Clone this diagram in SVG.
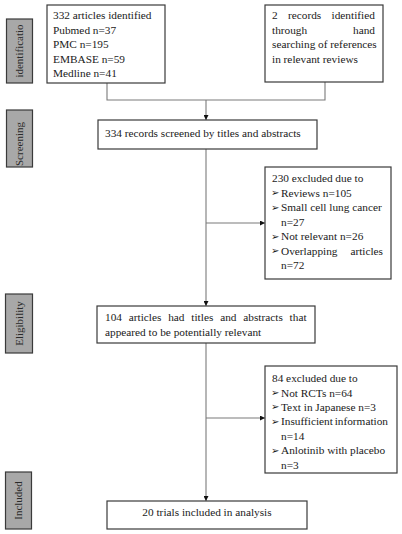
<svg xmlns="http://www.w3.org/2000/svg" width="402" height="534" viewBox="0 0 402 534">
<style>
.box{fill:#fff;stroke:#3a3a3a;stroke-width:1.2}
.side{fill:#a8a8a8;stroke:#3a3a3a;stroke-width:1.2}
.t{font-family:"Liberation Serif","Times New Roman",serif;font-size:11.3px;fill:#1a1a1a}
.e{text-anchor:end}
.st{font-family:"Liberation Serif","Times New Roman",serif;font-size:11px;fill:#2a2a2a}
.b{font-family:"DejaVu Sans",sans-serif;font-size:10px;fill:#1a1a1a}
.c{fill:none;stroke:#7a7a7a;stroke-width:1.1}
</style>
<defs>
<marker id="ah" viewBox="0 0 10 10" refX="10" refY="5" markerWidth="5" markerHeight="5" orient="auto" markerUnits="userSpaceOnUse">
<path d="M0,0 L10,5 L0,10 z" fill="#111"/>
</marker>
<clipPath id="cs"><rect x="6" y="110" width="26" height="57"/></clipPath>
</defs>
<rect width="402" height="534" fill="#fff"/>

<g id="side-identification">
<rect class="side" x="6.5" y="19" width="26" height="64"/>
<text class="st" transform="translate(23,51) rotate(-90)" text-anchor="middle">identificatio</text>
</g>
<g id="side-screening">
<rect class="side" x="6.5" y="110" width="26" height="57"/>
<g clip-path="url(#cs)"><text class="st" transform="translate(23,166) rotate(-90)">Screening</text></g>
</g>
<g id="side-eligibility">
<rect class="side" x="5.5" y="294" width="27" height="59"/>
<text class="st" transform="translate(23,323.5) rotate(-90)" text-anchor="middle">Eligibility</text>
</g>
<g id="side-included">
<rect class="side" x="5.5" y="472" width="26" height="57"/>
<text class="st" transform="translate(22,500.5) rotate(-90)" text-anchor="middle">Included</text>
</g>

<g id="connectors">
<path class="c" d="M107,83 V100 H325 V82"/>
<path class="c" d="M206,100 V120" marker-end="url(#ah)"/>
<path class="c" d="M206,149 V306" marker-end="url(#ah)"/>
<path class="c" d="M206,223 H265" marker-end="url(#ah)"/>
<path class="c" d="M206,343 V501" marker-end="url(#ah)"/>
<path class="c" d="M206,418 H265" marker-end="url(#ah)"/>
</g>

<g id="box-identified">
<rect class="box" x="47" y="5" width="118" height="78"/>
<text class="t" x="53" y="19">332 articles identified</text>
<text class="t" x="53" y="33.5">Pubmed n=37</text>
<text class="t" x="53" y="48">PMC n=195</text>
<text class="t" x="53" y="62.5">EMBASE n=59</text>
<text class="t" x="53" y="77">Medline n=41</text>
</g>

<g id="box-hand">
<rect class="box" x="265" y="5" width="118" height="77"/>
<text class="t" x="272" y="19" word-spacing="7.5">2 records identified</text>
<text class="t" x="272" y="33.5">through</text>
<text class="t e" x="375" y="33.5">hand</text>
<text class="t" x="272" y="48">searching of references</text>
<text class="t" x="272" y="62.5">in relevant reviews</text>
</g>

<g id="box-screened">
<rect class="box" x="98" y="120" width="219" height="29"/>
<text class="t" x="105" y="137">334 records screened by titles and abstracts</text>
</g>

<g id="box-excluded1">
<rect class="box" x="265" y="167" width="126" height="112"/>
<text class="t" x="272" y="182">230 excluded due to</text>
<text class="b" x="271" y="196">➢</text><text class="t" x="281" y="196.5">Reviews n=105</text>
<text class="b" x="271" y="210.5">➢</text><text class="t" x="281" y="211">Small cell lung cancer</text>
<text class="t" x="281" y="225.5">n=27</text>
<text class="b" x="271" y="239.5">➢</text><text class="t" x="281" y="240">Not relevant n=26</text>
<text class="b" x="271" y="254">➢</text><text class="t" x="281" y="254.5">Overlapping</text>
<text class="t e" x="383" y="254.5">articles</text>
<text class="t" x="281" y="269">n=72</text>
</g>

<g id="box-relevant">
<rect class="box" x="97" y="306" width="218" height="37"/>
<text class="t" x="105" y="321" word-spacing="4">104 articles had titles and abstracts that</text>
<text class="t" x="105" y="336">appeared to be potentially relevant</text>
</g>

<g id="box-excluded2">
<rect class="box" x="265" y="366" width="132" height="107"/>
<text class="t" x="272" y="382">84 excluded due to</text>
<text class="b" x="271" y="396">➢</text><text class="t" x="281" y="396.5">Not RCTs n=64</text>
<text class="b" x="271" y="410">➢</text><text class="t" x="281" y="410.5">Text in Japanese n=3</text>
<text class="b" x="271" y="424.5">➢</text><text class="t" x="281" y="425">Insufficient</text>
<text class="t e" x="388" y="425">information</text>
<text class="t" x="281" y="439.5">n=14</text>
<text class="b" x="271" y="453.5">➢</text><text class="t" x="281" y="454">Anlotinib with placebo</text>
<text class="t" x="281" y="468.5">n=3</text>
</g>

<g id="box-included">
<rect class="box" x="107" y="501" width="200" height="28"/>
<text class="t" x="207" y="516" text-anchor="middle">20 trials included in analysis</text>
</g>
</svg>
